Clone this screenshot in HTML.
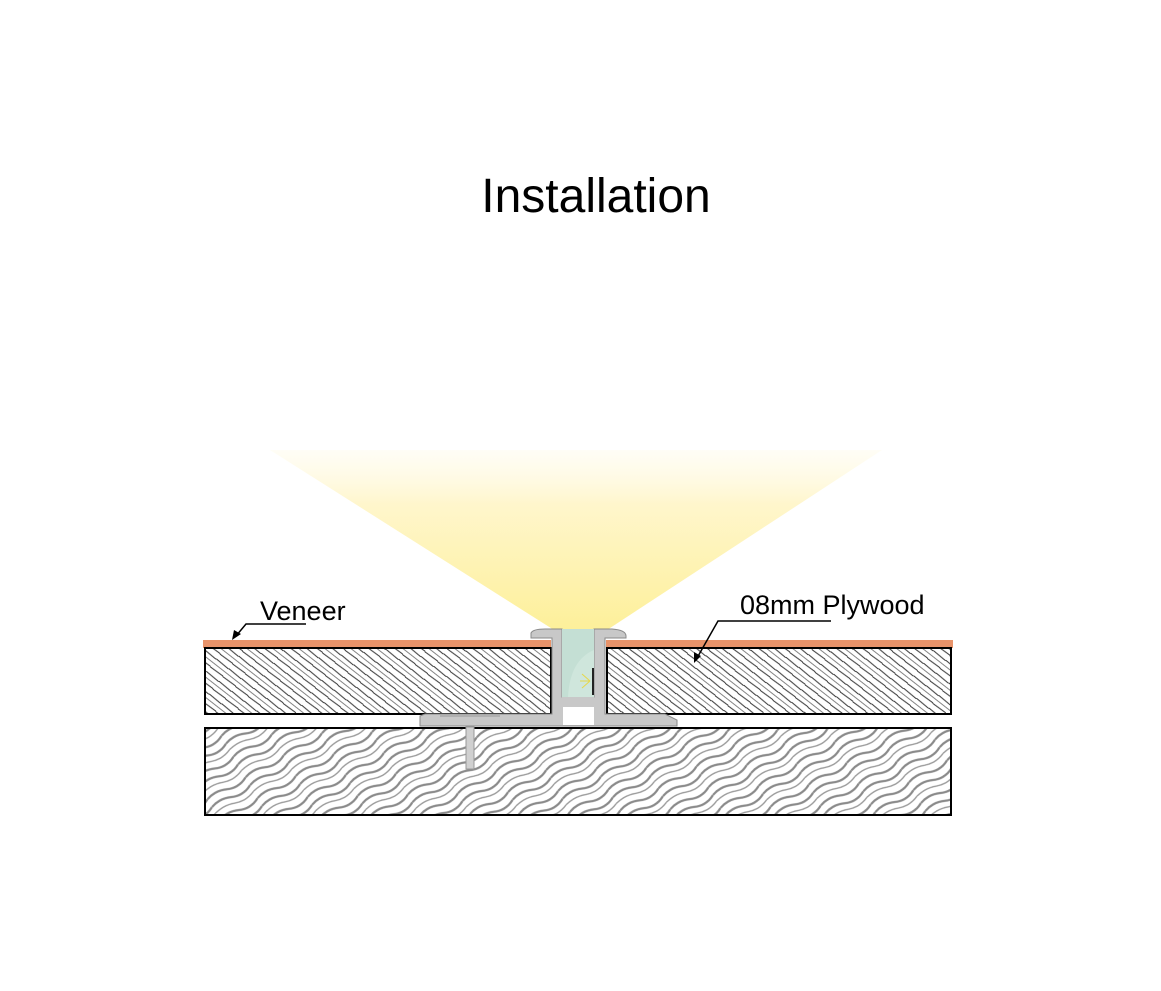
<!DOCTYPE html>
<html><head><meta charset="utf-8"><style>
html,body{margin:0;padding:0;background:#fff;}
svg{display:block;}
</style></head><body>
<svg width="1161" height="991" viewBox="0 0 1161 991" xmlns="http://www.w3.org/2000/svg">
<defs>
<linearGradient id="cone" x1="0" y1="450" x2="0" y2="630" gradientUnits="userSpaceOnUse">
<stop offset="0" stop-color="#fffbe8" stop-opacity="0.4"/>
<stop offset="0.3" stop-color="#fff6cc"/>
<stop offset="1" stop-color="#fdf09a"/>
</linearGradient>
<pattern id="hatch" width="16" height="16" patternUnits="userSpaceOnUse" patternTransform="rotate(38)">
<rect width="16" height="16" fill="#fff"/>
<line x1="0" y1="2" x2="16" y2="2.5" stroke="#333" stroke-width="1"/>
<line x1="0" y1="7" x2="16" y2="7" stroke="#666" stroke-width="0.8"/>
<line x1="0" y1="12" x2="16" y2="11.5" stroke="#333" stroke-width="1"/>
</pattern>
<pattern id="wave" width="44" height="24" patternUnits="userSpaceOnUse" patternTransform="rotate(-30)">
<rect width="44" height="24" fill="#fff"/>
<path d="M0 4 Q11 0 22 5 T44 4" fill="none" stroke="#8a8a8a" stroke-width="2.2"/>
<path d="M0 13 Q11 9 22 14 T44 13" fill="none" stroke="#8a8a8a" stroke-width="2.2"/>
<path d="M0 20 Q11 17 22 21 T44 20" fill="none" stroke="#9a9a9a" stroke-width="1.4"/>
</pattern>
</defs>
<text x="596" y="212" text-anchor="middle" font-family="Liberation Sans, sans-serif" font-size="48" fill="#000">Installation</text>
<polygon points="270,450 882,450 607,630 554,630" fill="url(#cone)"/>
<rect x="203" y="640" width="348" height="8" fill="#e8936a"/>
<rect x="606" y="640" width="347" height="8" fill="#e8936a"/>
<rect x="205" y="648" width="346" height="66" fill="url(#hatch)" stroke="#000" stroke-width="2"/>
<rect x="607" y="648" width="344" height="66" fill="url(#hatch)" stroke="#000" stroke-width="2"/>
<rect x="205" y="728" width="746" height="87" fill="url(#wave)" stroke="#000" stroke-width="2"/>
<g fill="#c8c8c8" stroke="#8a8a8a" stroke-width="1">
<path d="M531,638 L531,633 Q533,629 545,629 L562,629 L562,697 L594,697 L594,629 L612,629 Q626,630 626,636 L626,638 L605,638 L605,714 L665,714 L677,720 L677,726 L420,726 L420,716 L425,714 L552,714 L552,638 Z"/>
</g>
<rect x="562" y="629" width="32" height="68" fill="#cfe6dc"/>
<path d="M562,697 L562,629 L594,629 L594,650 Q570,660 568,697 Z" fill="#c4dfd4"/>
<rect x="563" y="707" width="31" height="18" fill="#fff"/>
<rect x="562" y="697" width="32" height="10" fill="#c8c8c8"/>
<line x1="593" y1="668" x2="593" y2="695" stroke="#222" stroke-width="2"/>
<g stroke="#e6d84a" stroke-width="1"><line x1="590" y1="681" x2="580" y2="681"/><line x1="590" y1="681" x2="582" y2="674"/><line x1="590" y1="681" x2="582" y2="688"/></g>
<rect x="466" y="727" width="8" height="42" fill="#d0d0d0" stroke="#999" stroke-width="1"/>
<line x1="440" y1="716" x2="500" y2="716" stroke="#999" stroke-width="1"/>
<text x="260" y="620" font-family="Liberation Sans, sans-serif" font-size="27" fill="#000">Veneer</text>
<polyline points="306,624 246,624 236,636" fill="none" stroke="#000" stroke-width="1.5"/>
<polygon points="232,640 234,630 241,634" fill="#000"/>
<text x="740" y="614" font-family="Liberation Sans, sans-serif" font-size="27" fill="#000">08mm Plywood</text>
<polyline points="831,621 718,621 697,658" fill="none" stroke="#000" stroke-width="1.5"/>
<polygon points="694,663 694,652 701,656" fill="#000"/>
</svg>
</body></html>
